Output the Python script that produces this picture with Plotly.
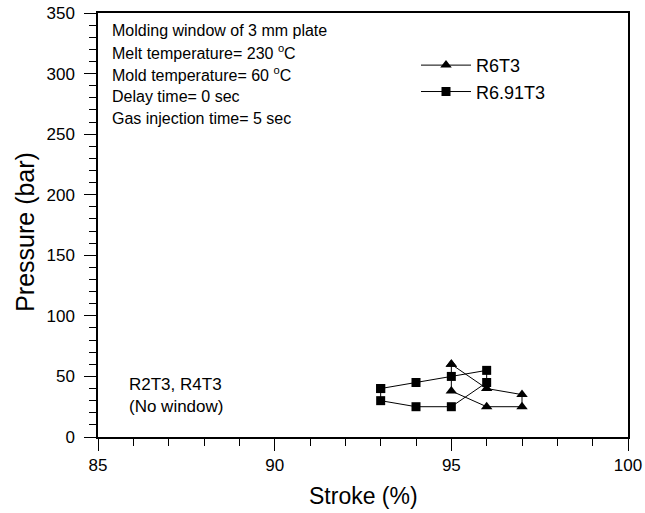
import plotly.graph_objects as go

# Data (closed molding-window outlines)
tri_name = "R6T3"
tri_x = [95, 96, 97, 97, 96, 95, 95]
tri_y = [60, 40, 35, 25, 25, 38, 60]

sq_name = "R6.91T3"
sq_x = [93, 94, 95, 96, 96, 95, 94, 93, 93]
sq_y = [40, 45, 50, 55, 45, 25, 25, 30, 40]

x_ticks = [85, 90, 95, 100]
y_ticks = [0, 50, 100, 150, 200, 250, 300, 350]

x_title = "Stroke (%)"
y_title = "Pressure (bar)"

info_lines = [
    "Molding window of 3 mm plate",
    "Melt temperature= 230 <sup>o</sup>C",
    "Mold temperature= 60 <sup>o</sup>C",
    "Delay time= 0 sec",
    "Gas injection time= 5 sec",
]
no_window_lines = ["R2T3, R4T3", "(No window)"]

FONT = "Liberation Sans, Arial, sans-serif"

fig = go.Figure()
fig.add_trace(go.Scatter(
    x=tri_x, y=tri_y, name=tri_name, mode="lines+markers",
    line=dict(color="black", width=1),
    marker=dict(symbol="triangle-up", size=10, color="black"),
))
fig.add_trace(go.Scatter(
    x=sq_x, y=sq_y, name=sq_name, mode="lines+markers",
    line=dict(color="black", width=1),
    marker=dict(symbol="square", size=9, color="black"),
))

ann = []
info_y = [0.958, 0.908, 0.856, 0.802, 0.752]
for t, yy in zip(info_lines, info_y):
    ann.append(dict(xref="paper", yref="paper", x=0.022, y=yy,
                    text=t, showarrow=False, xanchor="left", yanchor="middle",
                    font=dict(size=16, color="black", family=FONT)))
for i, t in enumerate(no_window_lines):
    ann.append(dict(xref="paper", yref="paper", x=0.055, y=0.123 - i * 0.05,
                    text=t, showarrow=False, xanchor="left", yanchor="middle",
                    font=dict(size=17, color="black", family=FONT)))
ann.append(dict(xref="paper", yref="paper", x=0.5, y=-0.139, text=x_title,
                showarrow=False, xanchor="center", yanchor="middle",
                font=dict(size=23, color="black", family=FONT)))
ann.append(dict(xref="paper", yref="paper", x=-0.138, y=0.4835, text=y_title,
                showarrow=False, xanchor="center", yanchor="middle", textangle=-90,
                font=dict(size=25, color="black", family=FONT)))

fig.update_layout(
    width=645, height=513,
    margin=dict(l=98, r=17, t=13, b=76, autoexpand=False),
    paper_bgcolor="white", plot_bgcolor="white",
    font=dict(family=FONT, color="black"),
    showlegend=True,
    legend=dict(x=0.6, y=0.92, xanchor="left", yanchor="top",
                bgcolor="rgba(0,0,0,0)", font=dict(size=18, family=FONT),
                tracegroupgap=0, itemwidth=50),
    annotations=ann,
    xaxis=dict(
        range=[85, 100], tickvals=x_ticks, showgrid=False, zeroline=False,
        showline=True, linecolor="black", linewidth=1.5, mirror=True,
        ticks="outside", ticklen=12, tickcolor="black", tickwidth=1,
        minor=dict(dtick=1, ticks="outside", ticklen=7, tickcolor="black"),
        tickfont=dict(size=17, family=FONT), automargin=False,
    ),
    yaxis=dict(
        range=[0, 350], tickvals=y_ticks, showgrid=False, zeroline=False,
        showline=True, linecolor="black", linewidth=1.5, mirror=True,
        ticks="outside", ticklen=12, tickcolor="black", tickwidth=1,
        minor=dict(dtick=10, ticks="outside", ticklen=7, tickcolor="black"),
        tickfont=dict(size=17, family=FONT), ticklabelstandoff=6, automargin=False,
    ),
)

fig.write_html("out.html")
